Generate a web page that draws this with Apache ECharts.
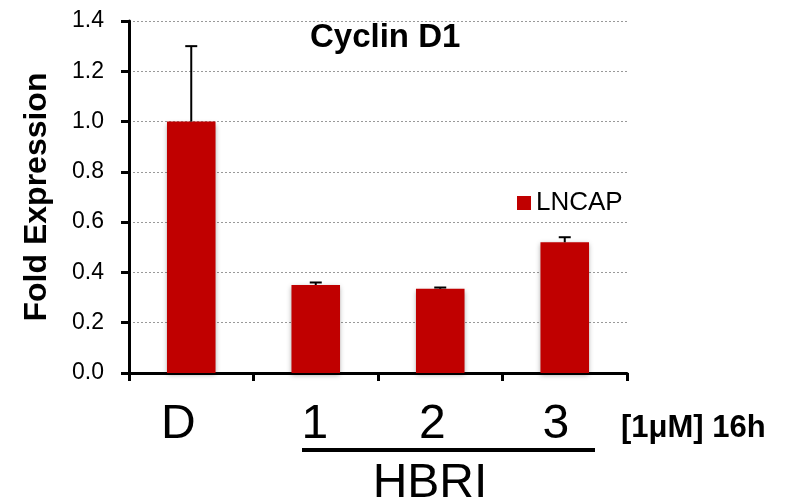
<!DOCTYPE html>
<html>
<head>
<meta charset="utf-8">
<title>Cyclin D1</title>
<script src="https://cdn.jsdelivr.net/npm/echarts@6/dist/echarts.min.js"></script>
<style>
  html, body { margin: 0; padding: 0; background: #fff; }
  #chart { width: 787px; height: 504px; }
</style>
</head>
<body>
<div id="chart"></div>
<script>
// Cyclin D1 fold expression in LNCAP cells, DMSO vs HBRI 1-3 (1 uM, 16 h)
const categories = ['D', '1', '2', '3'];
const seriesName = 'LNCAP';
const foldExpression = [1.0, 0.35, 0.335, 0.52];
const errorPlus = [0.30, 0.01, 0.005, 0.02];
const yTicks = [0, 0.2, 0.4, 0.6, 0.8, 1.0, 1.2, 1.4];

const BAR_RED = '#C00000';
const SANS = '"Liberation Sans", Arial, sans-serif';

// right-padding per category label, nudging each label slightly left of its bar
const labelNudge = { D: 26, '1': 2, '2': 16, '3': 18 };

const chart = echarts.init(document.getElementById('chart'));

// Upward error whiskers with caps, positioned through the axis scales
function renderError(params, api) {
  const idx = api.value(0);
  const top = api.coord([idx, api.value(2)]);
  const base = api.coord([idx, api.value(1)]);
  const half = 6;
  const style = { stroke: '#000', lineWidth: 2 };
  return {
    type: 'group',
    children: [
      { type: 'line', shape: { x1: base[0], y1: base[1], x2: top[0], y2: top[1] }, style },
      { type: 'line', shape: { x1: top[0] - half, y1: top[1], x2: top[0] + half, y2: top[1] }, style }
    ]
  };
}

const errorData = foldExpression.map((v, i) => [i, v, v + errorPlus[i]]);
const categoryData = categories.map(c => ({
  value: c,
  textStyle: { padding: [0, labelNudge[c] || 0, 0, 0] }
}));

chart.setOption({
  animation: false,
  backgroundColor: '#fff',
  title: {
    text: 'Cyclin D1',
    left: 305,
    top: 16,
    textStyle: { fontFamily: SANS, fontWeight: 'bold', fontSize: 33, color: '#000' }
  },
  legend: {
    data: [seriesName],
    left: 517,
    top: 190,
    padding: 0,
    icon: 'rect',
    itemWidth: 14,
    itemHeight: 14,
    textStyle: { fontFamily: SANS, fontSize: 26, color: '#000' }
  },
  grid: { left: 129, right: 160, top: 21, bottom: 131, containLabel: false },
  xAxis: {
    type: 'category',
    data: categoryData,
    axisLine: { lineStyle: { color: '#000', width: 3 } },
    axisTick: { show: true, length: 8, lineStyle: { color: '#000', width: 3 } },
    axisLabel: {
      margin: 28,
      fontFamily: SANS,
      fontSize: 48,
      color: '#000'
    }
  },
  yAxis: {
    type: 'value',
    min: yTicks[0],
    max: yTicks[yTicks.length - 1],
    interval: 0.2,
    name: 'Fold Expression',
    nameLocation: 'middle',
    nameRotate: 90,
    nameGap: 76,
    nameTextStyle: { fontFamily: SANS, fontWeight: 'bold', fontSize: 32, color: '#000' },
    axisLine: { show: true, lineStyle: { color: '#000', width: 3 } },
    axisTick: { show: true, length: 8, lineStyle: { color: '#000', width: 3 } },
    axisLabel: {
      margin: 25,
      fontFamily: SANS,
      fontSize: 23,
      color: '#000',
      formatter: v => v.toFixed(1)
    },
    splitLine: { show: true, lineStyle: { color: '#999', type: [2, 2], width: 1 } }
  },
  series: [
    {
      name: seriesName,
      type: 'bar',
      data: foldExpression,
      barWidth: '39%',
      itemStyle: {
        color: BAR_RED,
        shadowColor: 'rgba(0,0,0,0.35)',
        shadowBlur: 5,
        shadowOffsetY: 2
      },
      z: 2
    },
    {
      name: 'error',
      type: 'custom',
      data: errorData,
      renderItem: renderError,
      encode: { x: 0, y: [1, 2] },
      z: 3,
      silent: true
    }
  ],
  graphic: [
    {
      type: 'line',
      shape: { x1: 302, y1: 450, x2: 595, y2: 450 },
      style: { stroke: '#000', lineWidth: 4 }
    },
    {
      type: 'text',
      x: 430,
      y: 460,
      style: {
        text: 'HBRI',
        fontFamily: SANS,
        fontSize: 48,
        fill: '#000',
        textAlign: 'center',
        textVerticalAlign: 'top'
      }
    },
    {
      type: 'text',
      x: 621,
      y: 428,
      style: {
        text: '[1\u03bcM] 16h',
        fontFamily: SANS,
        fontWeight: 'bold',
        fontSize: 31,
        fill: '#000',
        textAlign: 'left',
        textVerticalAlign: 'middle'
      }
    }
  ]
});
</script>
</body>
</html>
